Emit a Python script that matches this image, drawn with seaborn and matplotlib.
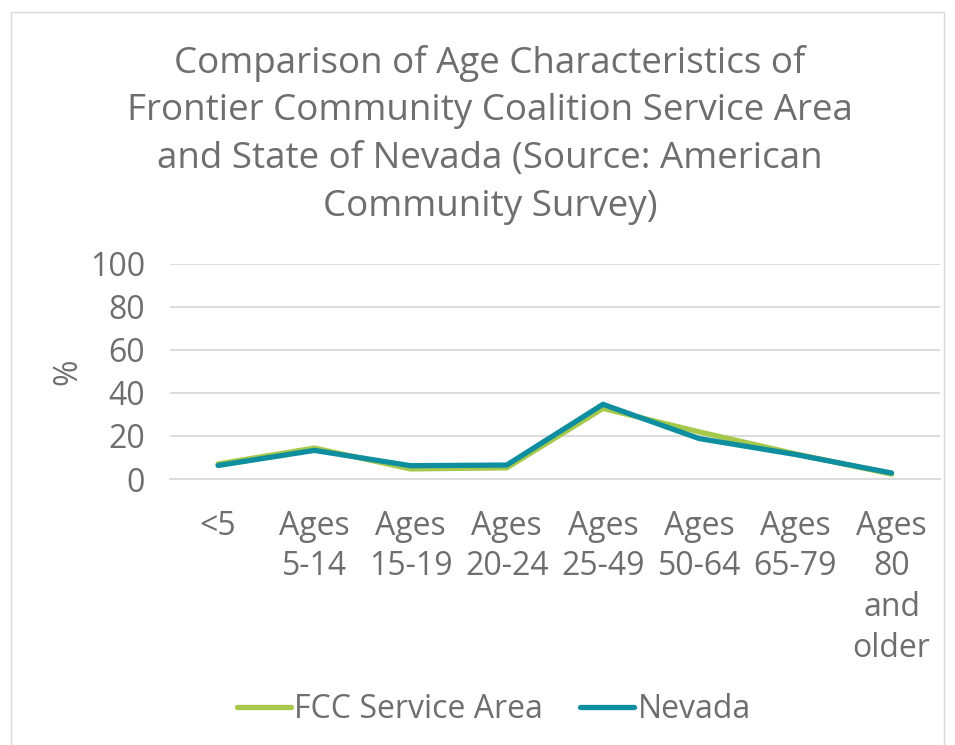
import pandas as pd
import seaborn as sns
import matplotlib.pyplot as plt
from matplotlib.patches import Rectangle

categories = ['<5', 'Ages\n5-14', 'Ages\n15-19', 'Ages\n20-24', 'Ages\n25-49',
              'Ages\n50-64', 'Ages\n65-79', 'Ages\n80\nand\nolder']
fcc = [7.0, 14.4, 4.7, 5.2, 32.8, 21.9, 11.7, 2.3]
nevada = [6.3, 13.3, 6.2, 6.5, 34.7, 18.8, 11.4, 2.8]
series_names = ['FCC Service Area', 'Nevada']
colors = ['#A6C94B', '#0E8E9E']

df = pd.DataFrame({
    'x': list(range(len(categories))) * 2,
    'value': fcc + nevada,
    'series': [series_names[0]] * len(fcc) + [series_names[1]] * len(nevada),
})

sns.set_style('white')
plt.rcParams['font.family'] = ['Open Sans', 'DejaVu Sans']
text_color = '#6E6E6E'

fig = plt.figure(figsize=(9.55, 7.45), dpi=100)
ax = fig.add_axes([0.178, 0.357, 0.806, 0.289])
sns.lineplot(data=df, x='x', y='value', hue='series', palette=colors,
             linewidth=3.8, ax=ax, legend=False)

ax.set_xlim(-0.5, len(categories) - 0.5)
ax.set_ylim(0, 100)
ax.set_yticks(range(0, 101, 20))
ax.set_xticks(range(len(categories)))
ax.set_xticklabels(categories, va='top', ha='center', linespacing=1.31)
ax.tick_params(axis='both', length=0, labelsize=23, colors=text_color)
ax.tick_params(axis='x', pad=22)
ax.tick_params(axis='y', pad=18)
ax.grid(axis='y', color='#D9D9D9', linewidth=1.3)
ax.set_axisbelow(True)
for side in ['top', 'right', 'left']:
    ax.spines[side].set_visible(False)
ax.spines['bottom'].set_color('#D9D9D9')
ax.spines['bottom'].set_linewidth(1.3)
ax.set_xlabel('')
ax.set_ylabel('%', fontsize=23, color=text_color, labelpad=4)

fig.text(0.513, 0.94, 'Comparison of Age Characteristics of\n'
         'Frontier Community Coalition Service Area\n'
         'and State of Nevada (Source: American\n'
         'Community Survey)', ha='center', va='top', fontsize=26.5,
         color=text_color, linespacing=1.43)

handles = [plt.Line2D([], [], color=c, linewidth=3.8, solid_capstyle='round')
           for c in colors]
fig.legend(handles, series_names, loc='center', bbox_to_anchor=(0.517, 0.047),
           ncol=2, frameon=False, fontsize=23, handlelength=1.7,
           handletextpad=0.1, columnspacing=1.15, labelcolor=text_color)

fig.patches.append(Rectangle((0.011, -0.01), 0.978, 0.994, transform=fig.transFigure,
                             fill=False, edgecolor='#D9D9D9', linewidth=1))

fig.savefig('out.png', dpi=100)
